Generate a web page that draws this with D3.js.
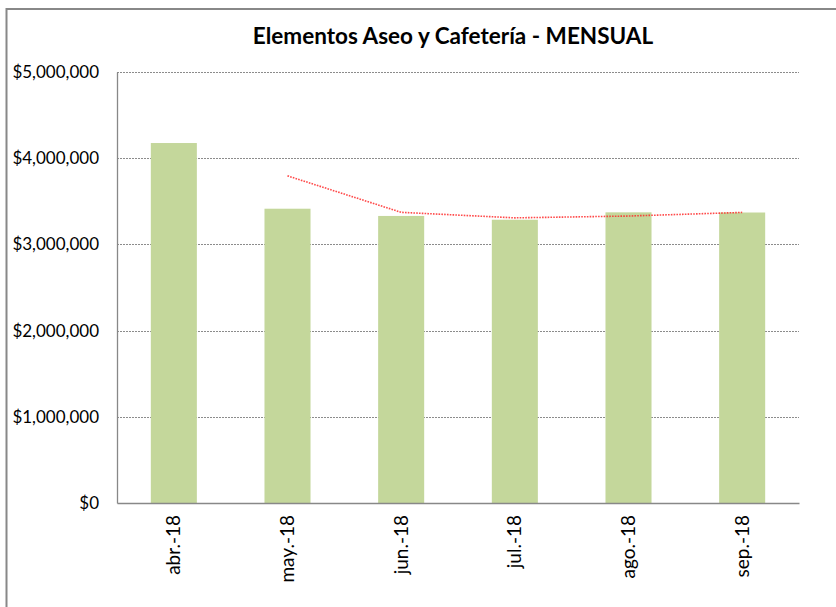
<!DOCTYPE html>
<html>
<head>
<meta charset="utf-8">
<script src="https://cdn.jsdelivr.net/npm/d3@7"></script>
<style>
  body { margin: 0; background: #fff; }
  text { font-family: Lato, "Liberation Sans", Arial, sans-serif; fill: #000; }
</style>
</head>
<body>
<div id="chart"></div>
<script>
// data
var months = ["abr.-18", "may.-18", "jun.-18", "jul.-18", "ago.-18", "sep.-18"];
var monthly = [4176000, 3414000, 3330000, 3286000, 3372000, 3370000];
// moving average trend (2 periods), first month has none
var trend = [null, 3795000, 3372000, 3308000, 3329000, 3371000];
var yTicks = [0, 1000000, 2000000, 3000000, 4000000, 5000000];

var W = 836, H = 607;
var margin = {top: 72, right: 37, bottom: 104, left: 117},
    width = W - margin.left - margin.right,
    height = H - margin.top - margin.bottom;

var svg = d3.select("#chart")
  .append("svg")
    .attr("width", W)
    .attr("height", H);

// chart border (runs off the right/bottom edge)
svg.append("rect")
  .attr("x", 6.5)
  .attr("y", 9)
  .attr("width", W + 20)
  .attr("height", H + 20)
  .attr("fill", "none")
  .attr("stroke", "#888")
  .attr("stroke-width", 2);

svg.append("text")
  .attr("x", 453)
  .attr("y", 44)
  .attr("text-anchor", "middle")
  .style("font-size", "22.5px")
  .style("font-weight", "bold")
  .text("Elementos Aseo y Cafetería - MENSUAL");

var g = svg.append("g")
  .attr("transform", "translate(" + margin.left + "," + margin.top + ")");

var x = d3.scaleBand()
  .domain(months)
  .range([0, width])
  .paddingInner(0.595)
  .paddingOuter(0.2975);

var y = d3.scaleLinear()
  .domain([0, 5000000])
  .range([height, 0]);

var money = function(d) { return "$" + d3.format(",")(d); };

// gridlines
g.selectAll(".grid")
  .data(yTicks.filter(function(d) { return d > 0; }))
  .enter()
  .append("line")
    .attr("x1", 0)
    .attr("x2", width)
    .attr("y1", function(d) { return Math.round(y(d)) + 0.5; })
    .attr("y2", function(d) { return Math.round(y(d)) + 0.5; })
    .attr("stroke", "#8c8c8c")
    .attr("stroke-dasharray", "2,1");

// bars
g.selectAll(".bar")
  .data(monthly)
  .enter()
  .append("rect")
    .attr("class", "bar")
    .attr("x", function(d, i) { return x(months[i]); })
    .attr("width", x.bandwidth())
    .attr("y", function(d) { return y(d); })
    .attr("height", function(d) { return height - y(d); })
    .attr("fill", "#c4d79b");

// y axis
var yAxis = g.append("g")
  .call(d3.axisLeft(y).tickValues(yTicks).tickFormat(money).tickSize(0).tickPadding(18));
yAxis.select(".domain").attr("stroke", "#888").attr("stroke-width", 1.3);
yAxis.selectAll("text")
  .style("font-size", "17px")
  .style("font-family", "Lato, 'Liberation Sans', Arial, sans-serif");

// x axis
var xAxis = g.append("g")
  .attr("transform", "translate(0," + height + ")")
  .call(d3.axisBottom(x).tickSize(0).tickPadding(12));
xAxis.select(".domain").attr("stroke", "#888").attr("stroke-width", 1.3);
xAxis.selectAll("text")
  .style("font-size", "19px")
  .style("font-family", "Lato, 'Liberation Sans', Arial, sans-serif")
  .attr("text-anchor", "end")
  .attr("dy", "0.35em")
  .attr("transform", "rotate(-90)")
  .attr("x", -12)
  .attr("y", 0);

// trend line
var line = d3.line()
  .defined(function(d) { return d != null; })
  .x(function(d, i) { return x(months[i]) + x.bandwidth() / 2; })
  .y(function(d) { return y(d); });

g.append("path")
  .datum(trend)
  .attr("d", line)
  .attr("fill", "none")
  .attr("stroke", "#ff2a2a")
  .attr("stroke-width", 1.6)
  .attr("stroke-dasharray", "1.6,1.2")
  .attr("opacity", 0.85);
</script>
</body>
</html>
